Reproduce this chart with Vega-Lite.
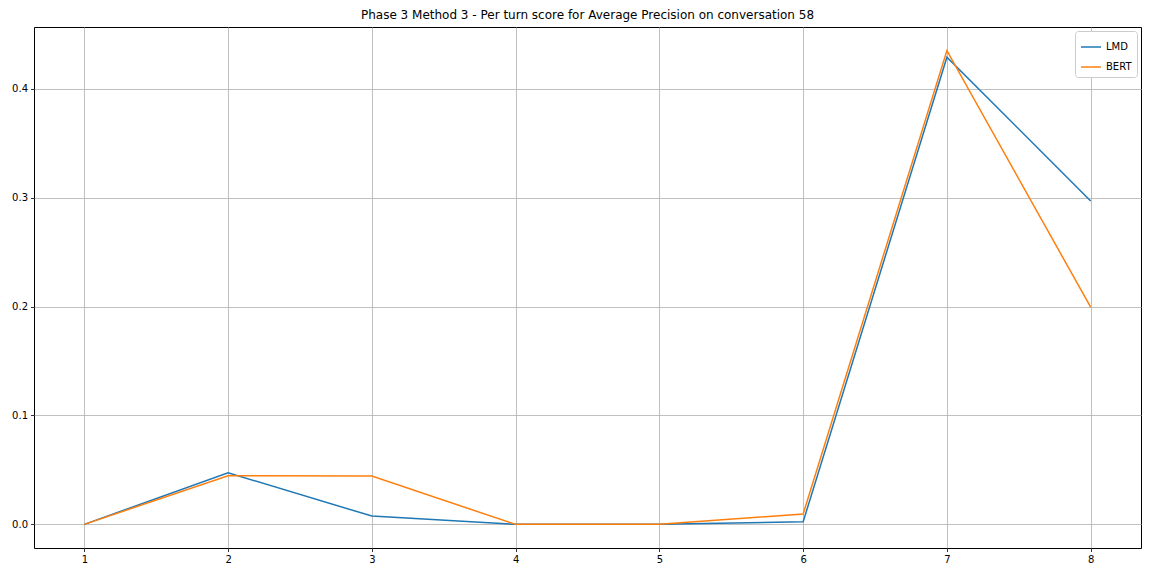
{
  "$schema": "https://vega.github.io/schema/vega-lite/v6.json",
  "width": 1107,
  "height": 521,
  "autosize": {"type": "none"},
  "padding": {"left": 34, "top": 27, "right": 11, "bottom": 28},
  "background": "white",
  "title": {"text": "Phase 3 Method 3 - Per turn score for Average Precision on conversation 58", "fontSize": 12, "fontWeight": "normal", "font": "DejaVu Sans", "color": "black", "offset": 5},
  "config": {
    "view": {"stroke": "black", "strokeWidth": 1},
    "font": "DejaVu Sans"
  },
  "data": {"values": [
    {"turn": 1, "model": "LMD", "score": 0.0},
    {"turn": 2, "model": "LMD", "score": 0.0474},
    {"turn": 3, "model": "LMD", "score": 0.0076},
    {"turn": 4, "model": "LMD", "score": 0.0},
    {"turn": 5, "model": "LMD", "score": 0.0},
    {"turn": 6, "model": "LMD", "score": 0.0024},
    {"turn": 7, "model": "LMD", "score": 0.429},
    {"turn": 8, "model": "LMD", "score": 0.2969},
    {"turn": 1, "model": "BERT", "score": 0.0},
    {"turn": 2, "model": "BERT", "score": 0.0447},
    {"turn": 3, "model": "BERT", "score": 0.0443},
    {"turn": 4, "model": "BERT", "score": 0.0},
    {"turn": 5, "model": "BERT", "score": 0.0},
    {"turn": 6, "model": "BERT", "score": 0.0095},
    {"turn": 7, "model": "BERT", "score": 0.435},
    {"turn": 8, "model": "BERT", "score": 0.1994}
  ]},
  "mark": {"type": "line", "strokeWidth": 1.5, "clip": true},
  "encoding": {
    "x": {"field": "turn", "type": "quantitative",
      "scale": {"domain": [0.65, 8.35], "nice": false, "zero": false},
      "axis": {"title": null, "values": [1,2,3,4,5,6,7,8], "format": "d", "grid": true, "gridColor": "#b0b0b0", "gridWidth": 0.8, "domain": false, "tickColor": "black", "tickSize": 3.5, "tickWidth": 0.8, "labelFontSize": 10, "labelColor": "black", "labelPadding": 3}},
    "y": {"field": "score", "type": "quantitative",
      "scale": {"domain": [-0.0217, 0.4567], "nice": false, "zero": false},
      "axis": {"title": null, "values": [0, 0.1, 0.2, 0.3, 0.4], "format": ".1f", "grid": true, "gridColor": "#b0b0b0", "gridWidth": 0.8, "domain": false, "tickColor": "black", "tickSize": 3.5, "tickWidth": 0.8, "labelFontSize": 10, "labelColor": "black", "labelPadding": 3}},
    "color": {"field": "model", "type": "nominal",
      "scale": {"domain": ["LMD", "BERT"], "range": ["#1f77b4", "#ff7f0e"]},
      "legend": {"title": null, "orient": "none", "legendX": 1041, "legendY": 4, "symbolType": "stroke", "symbolSize": 400, "symbolStrokeWidth": 1.5, "labelFontSize": 10, "labelColor": "black", "fillColor": "white", "strokeColor": "#cccccc", "cornerRadius": 3, "padding": 5, "rowPadding": 4}}
  }
}
